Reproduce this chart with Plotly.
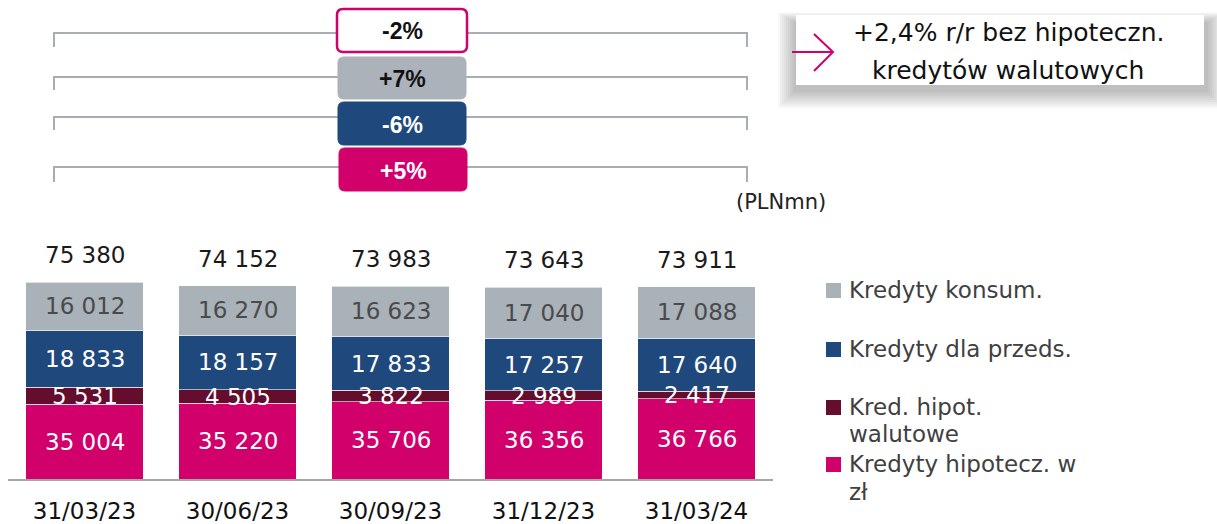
import plotly.graph_objects as go

W, H = 1217, 524

# data (PLN mn)
dates = ['31/03/23', '30/06/23', '30/09/23', '31/12/23', '31/03/24']
hipo_pln = [35004, 35220, 35706, 36356, 36766]
hipo_fx = [5531, 4505, 3822, 2989, 2417]
firmy = [18833, 18157, 17833, 17257, 17640]
konsum = [16012, 16270, 16623, 17040, 17088]
totals = [75380, 74152, 73983, 73643, 73911]

# y/y changes, top to bottom
changes = ['-2%', '+7%', '-6%', '+5%']
callout = ['+2,4% r/r bez hipoteczn.', 'kredytów walutowych']

names = ['Kredyty hipotecz. w', 'Kred. hipot.', 'Kredyty dla przeds.', 'Kredyty konsum.']
names2 = ['zł', 'walutowe', '', '']
colors = ['#d1006b', '#640d2d', '#1f497d', '#a9b1b9']
txt_colors = ['white', 'white', 'white', '#4a4a4a']

FONT = 'DejaVu Sans'
y_min = 10200
y_max = 92650


def fx(x):
    return x / W


def fy(y):
    return 1 - y / H


def fmt(v):
    return f'{v:,}'.replace(',', ' ')


def rrect(x0, y0, x1, y1, r):
    p = [
        ('M', [(x0 + r, y0)]), ('L', [(x1 - r, y0)]), ('Q', [(x1, y0), (x1, y0 + r)]),
        ('L', [(x1, y1 - r)]), ('Q', [(x1, y1), (x1 - r, y1)]), ('L', [(x0 + r, y1)]),
        ('Q', [(x0, y1), (x0, y1 - r)]), ('L', [(x0, y0 + r)]), ('Q', [(x0, y0), (x0 + r, y0)]),
    ]
    s = ''
    for cmd, pts in p:
        s += cmd + ' '.join(f'{fx(a):.5f},{fy(b):.5f}' for a, b in pts) + ' '
    return s + 'Z'


def poly(pts):
    return 'M' + ' L'.join(f'{fx(a):.5f},{fy(b):.5f}' for a, b in pts)


def note(x, y, text, size, color, family=FONT, xanchor='center'):
    # annotation placed in pixel coords of the page
    return dict(x=fx(x), y=fy(y), xref='paper', yref='paper', text=text, showarrow=False,
                xanchor=xanchor, yanchor='middle', font=dict(family=family, size=size, color=color))


fig = go.Figure()

series = [hipo_pln, hipo_fx, firmy, konsum]
for vals, name, col in zip(series, names, colors):
    fig.add_trace(go.Bar(x=dates, y=vals, name=name, marker_color=col,
                         marker_line=dict(color='rgba(255,255,255,0.6)', width=1),
                         showlegend=False, hoverinfo='skip'))

annotations = []
# segment labels at the middle of the visible part of each segment
base = [0] * len(dates)
for vals, col in zip(series, txt_colors):
    for i, v in enumerate(vals):
        lo = max(base[i], y_min)
        hi = base[i] + v
        annotations.append(dict(x=dates[i], y=(lo + hi) / 2, text=fmt(v), showarrow=False,
                                font=dict(family=FONT, size=23, color=col)))
        base[i] = hi

for d, t in zip(dates, totals):
    annotations.append(dict(x=d, y=t, text=fmt(t), showarrow=False, yshift=27,
                            font=dict(family=FONT, size=23, color='#1a1a1a')))

shapes = []

# brackets
for ly, tick in [(33, 14), (77, 13), (117, 13), (167, 15)]:
    shapes.append(dict(type='path', xref='paper', yref='paper',
                       path=poly([(54, ly + tick), (54, ly), (747, ly), (747, ly + tick)]),
                       line=dict(color='#a7aeb5', width=2)))

# change boxes
boxes = [(337, 9, 467, 52), (338, 57, 466, 99), (338, 102, 466, 145), (339, 148, 467, 191)]
box_fill = ['white', '#abb2b9', '#1f497d', '#d1006b']
box_line = ['#d1006b', '#abb2b9', '#1f497d', '#d1006b']
box_txt = ['#111111', '#111111', 'white', 'white']
for (x0, y0, x1, y1), ch, bf, bl, bt in zip(boxes, changes, box_fill, box_line, box_txt):
    shapes.append(dict(type='path', xref='paper', yref='paper', path=rrect(x0, y0, x1, y1, 6),
                       fillcolor=bf, line=dict(color=bl, width=2.5 if bf == 'white' else 1)))
    annotations.append(note((x0 + x1) / 2, (y0 + y1) / 2 + 1, '<b>' + ch + '</b>', 23, bt,
                            family='Liberation Sans'))

# callout with soft shadow
for i in range(9):
    e = 2 * i
    shapes.append(dict(type='rect', xref='paper', yref='paper',
                       x0=fx(794 - e), x1=fx(1208 + e), y0=fy(22 - e * 0.6), y1=fy(92 + e),
                       fillcolor='rgba(60,60,60,0.045)', line_width=0))
shapes.append(dict(type='rect', xref='paper', yref='paper', x0=fx(796), x1=fx(1204),
                   y0=fy(15), y1=fy(85), fillcolor='white', line_width=0))
shapes.append(dict(type='path', xref='paper', yref='paper',
                   path=poly([(792, 52), (833, 52)]), line=dict(color='#d1006b', width=2)))
shapes.append(dict(type='path', xref='paper', yref='paper',
                   path=poly([(814, 34), (833, 52), (814, 71)]), line=dict(color='#d1006b', width=2)))
for line, cy in zip(callout, [33, 70]):
    annotations.append(note(1008, cy, line, 25, '#111111'))

annotations.append(note(781, 202, '(PLNmn)', 21, '#222222'))

# legend drawn by hand (uneven spacing in the original)
leg_rows = [(3, 290, None), (2, 349, None), (1, 407, 434), (0, 464, 492)]
for idx, y1, y2 in leg_rows:
    shapes.append(dict(type='rect', xref='paper', yref='paper', x0=fx(826), x1=fx(841),
                       y0=fy(y1 - 7), y1=fy(y1 + 8), fillcolor=colors[idx], line_width=0))
    annotations.append(note(847, y1, names[idx], 23, '#404040', xanchor='left'))
    if y2:
        annotations.append(note(847, y2, names2[idx], 23, '#404040', xanchor='left'))

fig.update_layout(
    width=W, height=H,
    barmode='stack', bargap=0.235,
    margin=dict(l=0, r=0, t=0, b=0),
    paper_bgcolor='white', plot_bgcolor='white',
    showlegend=False,
    shapes=shapes, annotations=annotations,
    font=dict(family=FONT),
    xaxis=dict(domain=[fx(8), fx(773)], showline=True, linecolor='#a6a6a6', linewidth=2,
               showgrid=False, ticks='', ticklabelstandoff=10, automargin=False,
               tickfont=dict(family=FONT, size=23, color='#111111')),
    yaxis=dict(domain=[fy(479), fy(230)], range=[y_min, y_max], visible=False,
               showgrid=False, automargin=False),
)

fig.write_html('out.html', config={'displayModeBar': False},
               post_script="document.body.style.margin='0';")
